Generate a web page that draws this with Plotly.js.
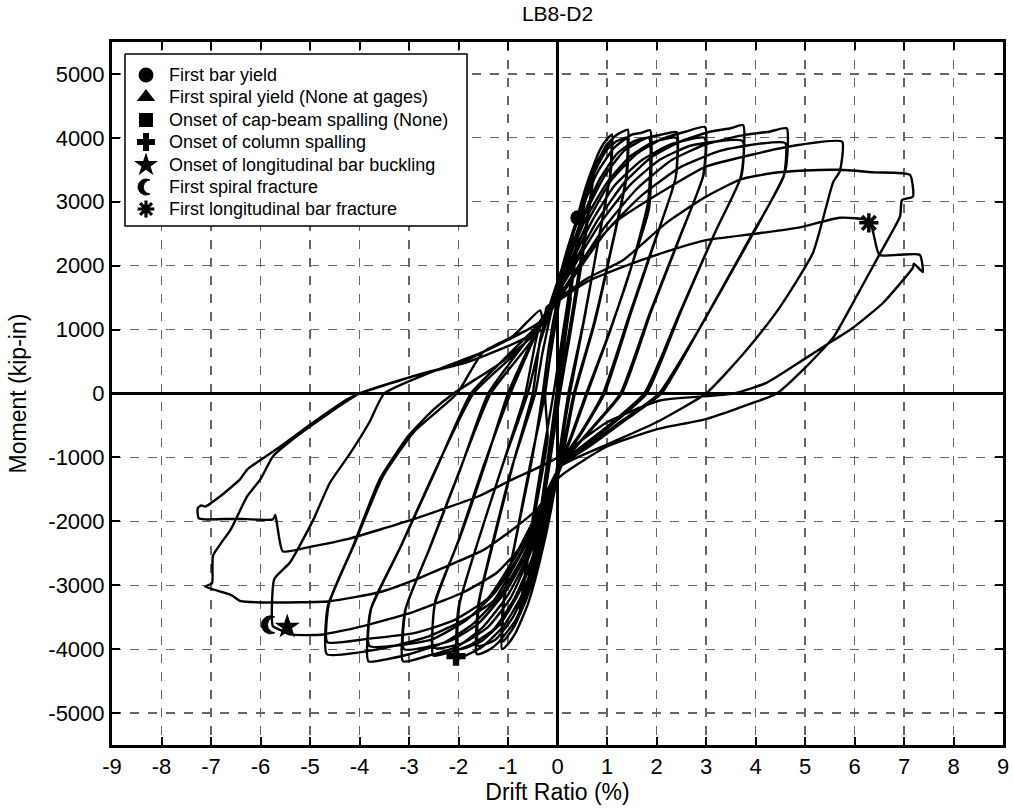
<!DOCTYPE html>
<html><head><meta charset="utf-8">
<script src="https://cdn.plot.ly/plotly-3.0.1.min.js"></script>
<style>html,body{margin:0;padding:0;background:#fff}#chart{width:1013px;height:809px}</style>
</head><body><div id="chart"></div><script>
// ---- Hysteresis data (drift ratio %, moment kip-in) ----
const c1_drift = [0, 0.1, 0.2, 0.27, 0.2, 0.08, -0.05, -0.15, -0.25, -0.28, -0.2, -0.08, 0.03, 0.13, 0.22, 0.26, 0.18, 0.05, -0.08, -0.18, -0.27, -0.22, -0.1];
const c1_moment = [0, 600, 1150, 1500, 1150, 500, -200, -800, -1350, -1550, -1150, -500, 100, 700, 1250, 1450, 1000, 300, -400, -1000, -1500, -1200, -550];

const c2_drift = [0.0, 0.12, 0.25, 0.38, 0.48, 0.42, 0.25, 0.08, -0.08, -0.22, -0.36, -0.5, -0.44, -0.28, -0.12, 0.02, 0.15, 0.3, 0.44, 0.4, 0.22, 0.05, -0.1, -0.25, -0.4, -0.52, -0.46, -0.3, -0.15];
const c2_moment = [0, 700, 1500, 2300, 2850, 2450, 1450, 450, -450, -1250, -2050, -2800, -2450, -1550, -700, 50, 900, 1800, 2650, 2400, 1300, 250, -600, -1500, -2300, -2850, -2500, -1600, -750];

const c3_drift = [-0.02, 0.15, 0.3, 0.45, 0.6, 0.75, 0.68, 0.48, 0.25, 0.05, -0.12, -0.3, -0.48, -0.63, -0.78, -0.7, -0.5, -0.28, -0.08, 0.1, 0.28, 0.45, 0.6, 0.72, 0.64, 0.42, 0.2, 0.0, -0.17, -0.35, -0.52, -0.66, -0.76, -0.68, -0.45, -0.2];
const c3_moment = [0, 1000, 1850, 2600, 3150, 3550, 3100, 2000, 900, 0, -900, -1800, -2600, -3150, -3500, -3050, -1950, -900, 0, 900, 1800, 2600, 3150, 3400, 2950, 1850, 800, -100, -1000, -1900, -2650, -3150, -3450, -3000, -1850, -700];

const c4_drift = [-0.25, -0.1, 0.1, 0.35, 0.6, 0.85, 1.0, 1.1, 1.08, 0.85, 0.55, 0.25, 0.1, -0.1, -0.35, -0.6, -0.85, -1.0, -1.12, -1.1, -0.85, -0.55, -0.25,
  -0.12, 0.08, 0.32, 0.58, 0.82, 1.08, 1.06, 0.83, 0.52, 0.22, 0.07, -0.12, -0.37, -0.62, -0.88, -1.1, -1.08, -0.82, -0.52, -0.3];
const c4_moment = [0, 800, 1700, 2600, 3300, 3800, 3980, 4050, 3500, 2500, 1200, 0, -700, -1700, -2600, -3300, -3750, -3920, -4000, -3300, -2300, -1100, 0,
  750, 1600, 2500, 3200, 3650, 3920, 3400, 2400, 1100, 0, -750, -1700, -2550, -3200, -3650, -3880, -3250, -2200, -1050, 0];

const c5_drift = [-0.18, -0.02, 0.2, 0.42, 0.7, 1.0, 1.2, 1.32, 1.42, 1.4, 1.1, 0.75, 0.35, 0.15, -0.05, -0.3, -0.55, -0.85, -1.2, -1.4, -1.63, -1.6, -1.3, -0.9, -0.45,
  -0.3, -0.12, 0.12, 0.38, 0.68, 0.98, 1.2, 1.4, 1.38, 1.08, 0.72, 0.33, 0.12, -0.08, -0.33, -0.58, -0.9, -1.25, -1.6, -1.58, -1.27, -0.88, -0.5];
const c5_moment = [700, 1400, 2150, 2800, 3450, 3900, 4050, 4100, 4130, 3400, 2300, 1100, 0, -800, -1500, -2300, -3000, -3550, -3900, -4020, -4080, -3300, -2300, -1100, 0,
  650, 1300, 2050, 2700, 3350, 3800, 3950, 4000, 3350, 2250, 1050, 0, -800, -1500, -2300, -2950, -3500, -3850, -3950, -3250, -2250, -1050, 0];

const c6_drift = [-0.35, -0.15, 0.15, 0.45, 0.8, 1.15, 1.5, 1.7, 1.87, 1.85, 1.5, 1.05, 0.6, 0.3, 0.05, -0.2, -0.45, -0.75, -1.1, -1.5, -1.8, -2.03, -2.0, -1.6, -1.1, -0.6,
  -0.35, -0.12, 0.18, 0.5, 0.85, 1.2, 1.55, 1.85, 1.83, 1.48, 1.02, 0.58, 0.28, 0.03, -0.22, -0.5, -0.8, -1.15, -1.55, -2.0, -1.98, -1.58, -1.08, -0.65];
const c6_moment = [850, 1400, 2100, 2800, 3450, 3850, 4050, 4080, 4120, 2900, 2000, 950, 0, -650, -1150, -1900, -2600, -3200, -3650, -3950, -4080, -4150, -3350, -2300, -1100, 0,
  800, 1350, 2050, 2750, 3350, 3750, 3950, 4000, 3000, 1950, 900, 0, -650, -1150, -1900, -2600, -3150, -3600, -3880, -4000, -3300, -2250, -1050, 0];

const c7_drift = [-0.4, -0.15, 0.2, 0.55, 0.95, 1.35, 1.8, 2.1, 2.41, 2.39, 2.0, 1.5, 0.95, 0.5, 0.05, -0.25, -0.55, -0.9, -1.3, -1.8, -2.2, -2.51, -2.48, -2.0, -1.5, -0.95,
  -0.45, -0.18, 0.2, 0.58, 1.0, 1.45, 1.9, 2.4, 2.38, 1.97, 1.46, 0.92, 0.48, 0.05, -0.27, -0.6, -0.95, -1.4, -1.9, -2.5, -2.47, -1.97, -1.46, -1.0];
const c7_moment = [950, 1350, 2100, 2800, 3400, 3800, 4000, 4050, 4090, 3390, 2450, 1300, 0, -600, -1150, -1950, -2650, -3250, -3700, -3950, -4050, -4100, -3300, -2300, -1150, 0,
  900, 1300, 2050, 2750, 3300, 3700, 3920, 4000, 3350, 2400, 1250, 0, -600, -1100, -1900, -2600, -3200, -3650, -3900, -3980, -3250, -2250, -1100, 0];

const c8_drift = [-0.5, -0.2, 0.25, 0.65, 1.1, 1.6, 2.1, 2.6, 2.98, 2.96, 2.5, 1.9, 1.3, 0.7, 0.1, -0.25, -0.6, -1.0, -1.5, -2.0, -2.6, -3.12, -3.08, -2.6, -2.0, -1.35,
  -0.55, -0.22, 0.25, 0.7, 1.15, 1.7, 2.3, 2.97, 2.94, 2.47, 1.86, 1.27, 0.68, 0.08, -0.28, -0.65, -1.05, -1.6, -2.2, -3.1, -3.06, -2.57, -1.97, -1.4];
const c8_moment = [850, 1300, 2050, 2750, 3350, 3750, 3980, 4100, 4170, 3450, 2500, 1300, 0, -550, -1100, -1850, -2550, -3150, -3650, -3950, -4100, -4190, -3400, -2450, -1250, 0,
  800, 1250, 2000, 2700, 3250, 3650, 3900, 4000, 3400, 2450, 1250, 0, -550, -1100, -1850, -2550, -3100, -3600, -3880, -4000, -3350, -2400, -1200, 0];

const c9_drift = [-0.7, -0.25, 0.3, 0.8, 1.35, 1.9, 2.5, 3.1, 3.5, 3.75, 3.72, 3.2, 2.5, 1.8, 1.0, 0.1, -0.3, -0.7, -1.15, -1.7, -2.3, -3.0, -3.4, -3.82, -3.78, -3.2, -2.5, -1.7,
  -0.75, -0.28, 0.3, 0.85, 1.45, 2.05, 2.7, 3.74, 3.7, 3.17, 2.46, 1.75, 0.95, 0.08, -0.32, -0.75, -1.25, -1.85, -2.55, -3.8, -3.76, -3.17, -2.46, -1.75];
const c9_moment = [750, 1250, 2000, 2700, 3300, 3700, 3950, 4100, 4150, 4200, 3420, 2550, 1300, 0, -550, -1100, -1850, -2550, -3150, -3600, -3900, -4080, -4150, -4190, -3400, -2450, -1250, 0,
  700, 1200, 1950, 2650, 3250, 3650, 3880, 3950, 3380, 2500, 1250, 0, -550, -1100, -1850, -2500, -3100, -3550, -3850, -3950, -3350, -2400, -1200, 0];

const c10_drift = [-1.0, -0.3, 0.35, 0.95, 1.6, 2.3, 3.0, 3.8, 4.3, 4.63, 4.6, 3.95, 2.82, 2.1, 1.4, 0.7, 0.05, -0.35, -0.8, -1.3, -1.9, -2.6, -3.3, -4.0, -4.66, -4.64, -4.13, -3.59, -3.0, -2.5, -2.1,
  -1.2, -0.5, -0.3, 0.35, 1.0, 1.7, 2.5, 3.3, 4.0, 4.6, 4.57, 3.9, 2.78, 2.05, 1.35, 0.65, 0.05, -0.38, -0.85, -1.4, -2.1, -2.9, -3.85, -4.65, -4.62, -4.1, -3.53, -2.9, -2.03];
const c10_moment = [600, 1150, 1900, 2600, 3200, 3650, 3900, 4050, 4100, 4150, 3470, 2500, 950, 0, -400, -800, -1150, -1900, -2600, -3250, -3550, -3800, -3950, -4050, -4080, -3330, -2390, -1340, -650, -250, 0,
  450, 900, 1100, 1850, 2550, 3100, 3550, 3800, 3900, 3920, 3400, 2450, 900, 0, -400, -800, -1150, -1900, -2550, -3200, -3550, -3750, -3840, -3890, -3300, -2350, -1300, -600, 0];

const c11_drift = [-1.5, -0.6, -0.3, 0.1, 0.6, 1.2, 2.2, 3.0, 4.0, 4.8, 5.75, 5.7, 5.57, 5.16, 4.5, 4.0, 3.5, 3.0, 2.0, 1.0, 0.05, -0.4, -0.8, -1.22, -1.9, -2.92, -3.93, -4.73, -5.1, -5.4, -5.6, -5.75, -5.72, -5.4, -4.93, -4.6, -4.2, -3.8, -3.5, -2.5, -1.5, -0.6, -0.3];
const c11_moment = [650, 1000, 1150, 1600, 2200, 2700, 3200, 3550, 3750, 3880, 3940, 3470, 3310, 2200, 1360, 850, 400, 0, -450, -800, -1150, -1850, -2450, -2800, -3110, -3420, -3640, -3770, -3780, -3770, -3700, -3640, -2900, -2640, -1970, -1400, -950, -450, 0, 350, 650, 1000, 1150];

const c12_drift = [0.05, 0.6, 1.33, 2.2, 3.0, 3.7, 4.35, 5.0, 5.7, 6.4, 7.12, 7.18, 6.96, 6.92, 6.5, 5.97, 5.57, 5.0, 4.43, 4.03, 3.0, 2.0, 1.0, 0.05, -0.4, -0.9, -1.5, -2.23, -2.9, -3.6, -4.6, -5.75, -6.4, -6.6, -7.12, -6.98, -6.96, -6.6, -6.27, -6.0, -5.75, -5.27, -4.6, -4.0, -2.92, -1.9, -0.9, -0.35, -0.28, -0.22];
const c12_moment = [1500, 1800, 2090, 2670, 3080, 3350, 3450, 3490, 3500, 3460, 3420, 3080, 3030, 2770, 2170, 1420, 875, 400, 0, -125, -400, -560, -830, -1300, -1800, -2125, -2450, -2700, -2920, -3110, -3250, -3270, -3250, -3150, -3020, -2970, -2540, -2125, -1610, -1340, -985, -670, -300, 0, 270, 500, 900, 1300, 1050, 1350];

const c13_drift = [0.05, 0.6, 1.32, 2.2, 3.0, 4.0, 4.9, 5.7, 6.3, 6.5, 6.9, 7.32, 7.38, 7.2, 7.18, 6.58, 5.97, 5.45, 4.97, 4.23, 3.55, 2.07, 1.0, 0.05, -0.5, -0.9, -1.57, -2.92, -4.25, -5.0, -5.55, -5.7, -5.75, -6.5, -7.12, -7.25, -7.27, -7.2, -7.12, -6.8, -6.41, -6.27, -5.6, -4.93, -4.25, -4.0, -3.45, -2.92, -1.9, -1.0, -0.3];
const c13_moment = [1470, 1750, 1980, 2220, 2400, 2500, 2600, 2750, 2700, 2170, 2170, 2170, 1900, 2030, 1970, 1420, 1030, 770, 530, 170, 0, -110, -450, -980, -1200, -1340, -1600, -1970, -2280, -2400, -2470, -1900, -1970, -1960, -1970, -1950, -1800, -1750, -1770, -1600, -1340, -1190, -830, -450, -90, 0, 140, 270, 470, 740, 1000];

// ---- Damage events ----
const yieldDrift = [0.41], yieldMoment = [2750];
const spallDrift = [-2.05], spallMoment = [-4110];
const buckleDrift = [-5.46], buckleMoment = [-3650];
const spiralFracDrift = [-5.8], spiralFracMoment = [-3620];
const barFracDrift = [6.29], barFracMoment = [2670];

// ---- Labels ----
const legendLabels = ['First bar yield', 'First spiral yield (None at gages)', 'Onset of cap-beam spalling (None)',
  'Onset of column spalling', 'Onset of longitudinal bar buckling', 'First spiral fracture', 'First longitudinal bar fracture'];
const legendSymbols = ['circle', 'triangle-up', 'square', 'cross', 'star', 'crescent', 'asterisk'];
const legendSymbolSizes = [15, 16, 14, 15, 18, 8, 14];
const xTickVals = [-9, -8, -7, -6, -5, -4, -3, -2, -1, 0, 1, 2, 3, 4, 5, 6, 7, 8, 9];
const xTickText = ['-9', '-8', '-7', '-6', '-5', '-4', '-3', '-2', '-1', '0', '1', '2', '3', '4', '5', '6', '7', '8', '9'];
const yTickVals = [-5000, -4000, -3000, -2000, -1000, 0, 1000, 2000, 3000, 4000, 5000];
const yTickText = ['-5000', '-4000', '-3000', '-2000', '-1000', '0', '1000', '2000', '3000', '4000', '5000'];

const driftAll = [].concat(c1_drift, c2_drift, c3_drift, c4_drift, c5_drift, c6_drift, c7_drift, c8_drift, c9_drift, c10_drift, c11_drift, c12_drift, c13_drift);
const momentAll = [].concat(c1_moment, c2_moment, c3_moment, c4_moment, c5_moment, c6_moment, c7_moment, c8_moment, c9_moment, c10_moment, c11_moment, c12_moment, c13_moment);

// ---- Geometry ----
const plotL = 112, plotR = 1003, plotT = 42, plotB = 745;
const W = plotR - plotL, H = plotB - plotT;
const X_RANGE = [-9, 9], Y_RANGE = [-5500, 5500];
const pxX = (X_RANGE[1] - X_RANGE[0]) / W;   // data units per pixel
const pxY = (Y_RANGE[1] - Y_RANGE[0]) / H;
const px = v => (v - plotL) / W;               // pixel -> plot-area fraction
const py = v => (plotB - v) / H;

// crescent outline (pixel offsets around centre, opening to the right)
function crescentOffsets(R) {
  const r = R * 0.88, d = R * 0.55;
  const ix = (R * R - r * r + d * d) / (2 * d);
  const iy = Math.sqrt(R * R - ix * ix);
  const a0 = Math.atan2(iy, ix), a1 = 2 * Math.PI - a0;
  const b0 = Math.atan2(-iy, ix - d) + 2 * Math.PI, b1 = Math.atan2(iy, ix - d);
  const pts = [];
  const n = 28;
  for (let k = 0; k <= n; k++) { const a = a0 + (a1 - a0) * k / n; pts.push([R * Math.cos(a), R * Math.sin(a)]); }
  for (let k = 0; k <= n; k++) { const b = b0 + (b1 - b0) * k / n; pts.push([d + r * Math.cos(b), r * Math.sin(b)]); }
  return pts;
}
const cres = crescentOffsets(9);
const cresX = cres.map(p => spiralFracDrift[0] + p[0] * pxX);
const cresY = cres.map(p => spiralFracMoment[0] + p[1] * pxY);

// legend (drawn on an overlay axis spanning the plot area in 0..1 units)
const rowY = [75, 97, 120, 142, 165, 187, 209];
const legSymX = 146, legTextX = 167;
const boxL = 125, boxR = 467, boxT = 54, boxB = 226;
const legendBox = {x: [px(boxL), px(boxR), px(boxR), px(boxL), px(boxL)], y: [py(boxT), py(boxT), py(boxB), py(boxB), py(boxT)]};
const lc = crescentOffsets(legendSymbolSizes[5]);
const legCresX = lc.map(p => px(legSymX + p[0]));
const legCresY = lc.map(p => py(rowY[5] - p[1]));

const FONT = 'Arial, "Liberation Sans", Helvetica, sans-serif';
const BLACK_MARKER = (sym, size, lw) => ({symbol: sym, size: size, color: '#000000', opacity: 1,
  line: {color: '#000000', width: lw || 0}});

const traces = [
  {x: driftAll, y: momentAll, mode: 'lines', line: {color: '#000', width: 2.4, shape: 'spline', smoothing: 0.5}, hoverinfo: 'skip', showlegend: false},
  {x: yieldDrift, y: yieldMoment, mode: 'markers', marker: BLACK_MARKER('circle', 15), showlegend: false},
  {x: spallDrift, y: spallMoment, mode: 'markers', marker: BLACK_MARKER('cross', 16), showlegend: false},
  {x: cresX, y: cresY, mode: 'lines', fill: 'toself', fillcolor: '#000', line: {color: '#000', width: 1}, showlegend: false},
  {x: buckleDrift, y: buckleMoment, mode: 'markers', marker: BLACK_MARKER('star', 19), showlegend: false},
  {x: barFracDrift, y: barFracMoment, mode: 'markers', marker: BLACK_MARKER('asterisk', 16, 3.5), showlegend: false},
  // legend frame
  {x: legendBox.x, y: legendBox.y, xaxis: 'x2', yaxis: 'y2', mode: 'lines', fill: 'toself', fillcolor: '#fff', line: {color: '#000', width: 1.5}, showlegend: false},
  {x: legCresX, y: legCresY, xaxis: 'x2', yaxis: 'y2', mode: 'lines', fill: 'toself', fillcolor: '#000', line: {color: '#000', width: 1}, showlegend: false}
];
// legend symbols, one trace each
[0, 1, 2, 3, 4, 6].forEach(i => {
  traces.push({x: [px(legSymX)], y: [py(rowY[i])], xaxis: 'x2', yaxis: 'y2', mode: 'markers',
    marker: BLACK_MARKER(legendSymbols[i], legendSymbolSizes[i], legendSymbols[i] === 'asterisk' ? 3.2 : 0), showlegend: false});
});

const annotations = legendLabels.map((t, i) => ({xref: 'paper', yref: 'paper', x: px(legTextX), y: py(rowY[i]),
  xanchor: 'left', yanchor: 'middle', text: t, showarrow: false, font: {family: FONT, size: 18, color: '#000'}}));

const axisCommon = {
  showline: true, linecolor: '#000', linewidth: 3, mirror: 'ticks',
  ticks: 'inside', ticklen: 8, tickwidth: 2, tickcolor: '#000',
  showgrid: true, gridcolor: '#666', gridwidth: 1.2, griddash: 'dash',
  zeroline: true, zerolinecolor: '#000', zerolinewidth: 2.5,
  tickfont: {family: FONT, size: 22, color: '#000'}, fixedrange: true
};

const layout = {
  width: 1013, height: 809,
  margin: {l: plotL, r: 1013 - plotR, t: plotT, b: 809 - plotB},
  paper_bgcolor: '#fff', plot_bgcolor: '#fff',
  font: {family: FONT, color: '#000'},
  title: {text: 'LB8-D2', font: {family: FONT, size: 21, color: '#000'}, x: 0.5, xref: 'paper', y: 1 - 14 / 809, yref: 'container', yanchor: 'middle'},
  xaxis: Object.assign({}, axisCommon, {range: X_RANGE, tickvals: xTickVals, ticktext: xTickText,
    title: {text: 'Drift Ratio (%)', font: {family: FONT, size: 23, color: '#000'}, standoff: 4}}),
  yaxis: Object.assign({}, axisCommon, {range: Y_RANGE, tickvals: yTickVals, ticktext: yTickText,
    title: {text: 'Moment (kip-in)', font: {family: FONT, size: 23, color: '#000'}, standoff: 16}}),
  xaxis2: {overlaying: 'x', anchor: 'y2', range: [0, 1], visible: false, fixedrange: true},
  yaxis2: {overlaying: 'y', anchor: 'x2', range: [0, 1], visible: false, fixedrange: true},
  annotations: annotations,
  showlegend: false
};

Plotly.newPlot('chart', traces, layout, {staticPlot: true, displayModeBar: false});
</script></body></html>
